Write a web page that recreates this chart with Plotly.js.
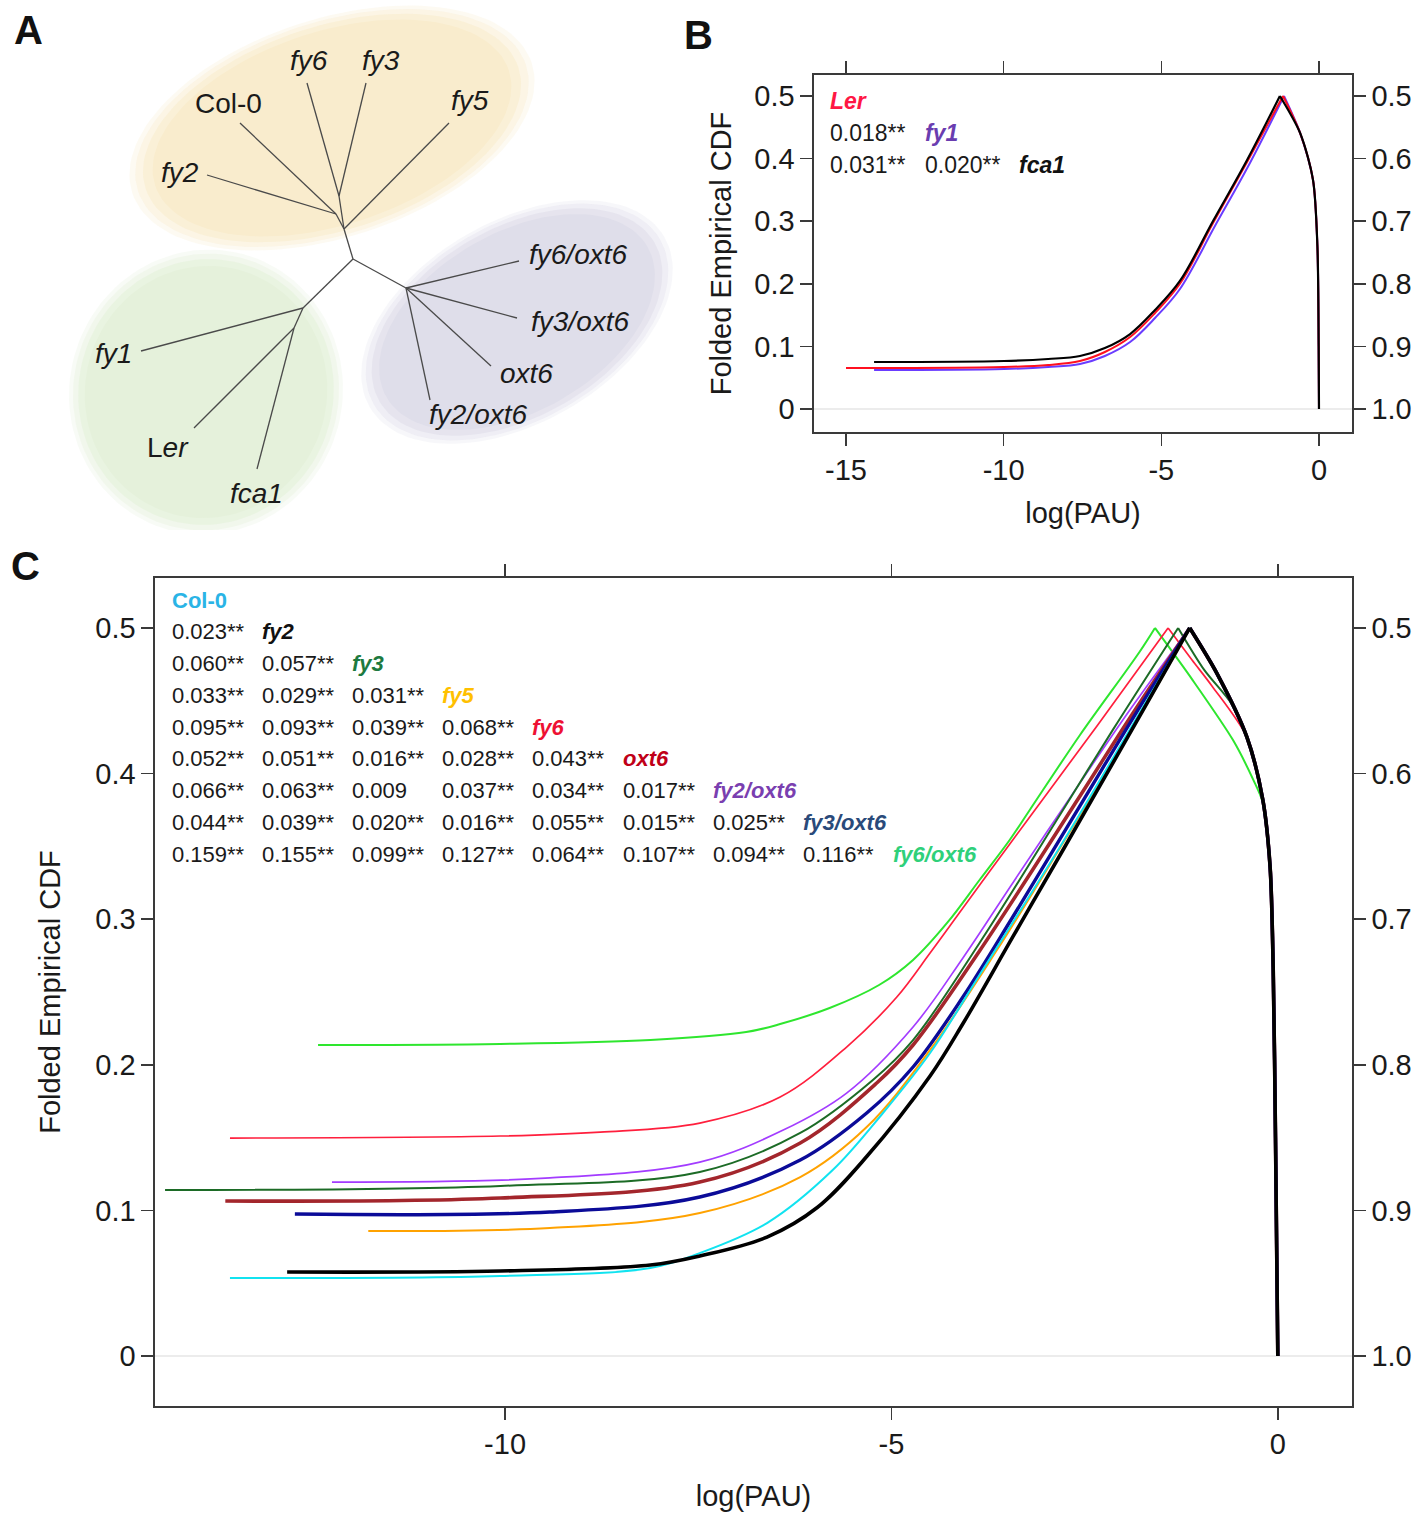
<!DOCTYPE html>
<html><head><meta charset="utf-8">
<script src="https://cdn.plot.ly/plotly-3.0.1.min.js"></script>
<style>html,body{margin:0;padding:0;background:#fff}#chart{width:1421px;height:1514px}</style>
</head><body><div id="chart"></div>
<script>
// ---------------- Panel C data (log(PAU) vs folded empirical CDF) ----------------
const col0X = [-13.56,-10.06,-8.12,-7.48,-6.61,-5.76,-5.11,-4.50,-3.86,-2.82,-1.69,-1.14,-0.79,-0.40,-0.194,-0.10,-0.06,-0.03,0];
const col0Y = [0.0536,0.055,0.0604,0.0707,0.0913,0.1277,0.1669,0.2081,0.2617,0.3496,0.4505,0.5,0.469,0.425,0.382,0.336,0.267,0.15,0];
const fy2X = [-12.82,-10.06,-8.12,-7.48,-6.61,-5.96,-5.32,-4.50,-4.07,-3.43,-2.78,-1.69,-1.14,-0.79,-0.40,-0.194,-0.10,-0.06,-0.03,0];
const fy2Y = [0.0577,0.0584,0.0625,0.0687,0.0817,0.102,0.137,0.1923,0.2287,0.2878,0.3475,0.4485,0.5,0.469,0.425,0.382,0.336,0.267,0.15,0];
const fy3X = [-14.40,-10.06,-7.48,-6.18,-5.24,-4.72,-3.86,-2.78,-2.135,-1.29,-0.95,-0.60,-0.40,-0.194,-0.10,-0.06,-0.03,0];
const fy3Y = [0.114,0.1168,0.1264,0.1532,0.1896,0.217,0.2837,0.375,0.43,0.5,0.471,0.448,0.425,0.382,0.336,0.267,0.15,0];
const fy5X = [-11.77,-9.42,-7.48,-6.18,-5.32,-4.50,-3.635,-2.78,-2.34,-1.695,-1.14,-0.79,-0.40,-0.194,-0.10,-0.06,-0.03,0];
const fy5Y = [0.0859,0.0879,0.0982,0.1229,0.1573,0.2102,0.2788,0.3523,0.3908,0.4478,0.5,0.469,0.425,0.382,0.336,0.267,0.15,0];
const fy6X = [-13.56,-10.06,-8.77,-7.48,-6.44,-5.58,-4.93,-4.50,-4.075,-3.43,-2.99,-2.34,-1.42,-1.11,-0.85,-0.40,-0.194,-0.10,-0.06,-0.03,0];
const fy6Y = [0.1497,0.1511,0.1538,0.160,0.1779,0.2122,0.2466,0.2768,0.3077,0.3544,0.386,0.4327,0.5,0.478,0.46,0.425,0.382,0.336,0.267,0.15,0];
const oxt6X = [-13.62,-10.06,-7.48,-6.18,-5.19,-4.72,-3.86,-2.56,-1.915,-1.14,-0.79,-0.40,-0.194,-0.10,-0.06,-0.03,0];
const oxt6Y = [0.1065,0.1085,0.1195,0.1463,0.1875,0.2136,0.2782,0.3846,0.4382,0.5,0.469,0.425,0.382,0.336,0.267,0.15,0];
const fy2oxt6X = [-12.24,-9.42,-7.48,-6.40,-5.58,-4.72,-4.075,-3.43,-2.56,-1.915,-1.14,-0.79,-0.40,-0.194,-0.10,-0.06,-0.03,0];
const fy2oxt6Y = [0.1195,0.1223,0.1332,0.1552,0.1806,0.226,0.2734,0.3249,0.3936,0.4437,0.5,0.469,0.425,0.382,0.336,0.267,0.15,0];
const fy3oxt6X = [-12.72,-9.42,-7.48,-6.18,-5.32,-4.72,-4.075,-3.43,-2.50,-1.85,-1.14,-0.79,-0.40,-0.194,-0.10,-0.06,-0.03,0];
const fy3oxt6Y = [0.0975,0.0989,0.1092,0.1346,0.1669,0.1985,0.2466,0.3015,0.3832,0.4402,0.5,0.469,0.425,0.382,0.336,0.267,0.15,0];
const fy6oxt6X = [-12.42,-10.06,-8.12,-6.88,-6.44,-5.80,-5.16,-4.72,-4.28,-3.86,-3.47,-3.21,-2.56,-1.79,-1.59,-1.1,-0.58,-0.32,-0.194,-0.10,-0.06,-0.03,0];
const fy6oxt6Y = [0.2136,0.2143,0.217,0.2225,0.228,0.239,0.2548,0.272,0.2974,0.3269,0.3544,0.375,0.4265,0.4835,0.5,0.464,0.423,0.396,0.38,0.336,0.267,0.15,0];

// Panel C pairwise distance table (lower triangle)
const cNames = ['Col-0','fy2','fy3','fy5','fy6','oxt6','fy2/oxt6','fy3/oxt6','fy6/oxt6'];
const cDist = [
  [],
  ['0.023**'],
  ['0.060**','0.057**'],
  ['0.033**','0.029**','0.031**'],
  ['0.095**','0.093**','0.039**','0.068**'],
  ['0.052**','0.051**','0.016**','0.028**','0.043**'],
  ['0.066**','0.063**','0.009','0.037**','0.034**','0.017**'],
  ['0.044**','0.039**','0.020**','0.016**','0.055**','0.015**','0.025**'],
  ['0.159**','0.155**','0.099**','0.127**','0.064**','0.107**','0.094**','0.116**']
];

// ---------------- Panel B data ----------------
const lerX = [-15.0,-9.99,-8.59,-7.58,-6.79,-5.99,-5.20,-4.41,-3.36,-2.28,-1.14,-0.6,-0.19,-0.05,-0.01,0];
const lerY = [0.0655,0.0671,0.0703,0.0767,0.0911,0.115,0.1534,0.200,0.2971,0.3946,0.5,0.441,0.366,0.26,0.1,0];
const fy1X = [-14.11,-9.99,-8.59,-7.58,-6.79,-5.99,-5.20,-4.41,-3.30,-2.19,-1.11,-0.6,-0.19,-0.05,-0.01,0];
const fy1Y = [0.0623,0.0639,0.0671,0.0719,0.0847,0.107,0.1454,0.1917,0.2923,0.393,0.5,0.441,0.366,0.26,0.1,0];
const fca1X = [-14.11,-9.99,-8.59,-7.58,-6.79,-5.99,-5.20,-4.41,-3.36,-2.28,-1.24,-0.6,-0.19,-0.05,-0.01,0];
const fca1Y = [0.0751,0.0767,0.0799,0.0847,0.0974,0.1198,0.1581,0.2045,0.3003,0.3978,0.5,0.441,0.366,0.26,0.1,0];
const bNames = ['Ler','fy1','fca1'];
const bDist = [[], ['0.018**'], ['0.031**','0.020**']];

// ---------------- Panel A data (unrooted tree, drawing units) ----------------
const treeNodeNames = ['R','Y','Ya','Yb','P','G','Ga','fy5','fy2','Col-0','fy6','fy3','fy6/oxt6','fy3/oxt6','oxt6','fy2/oxt6','fy1','Ler','fca1'];
const treeNodeX = [353,344,336,339,406,303,294,449,207,240,307,366,519,517,491,430,141,194,257];
const treeNodeY = [259,229,214,196,288,308,328,123,175,123,83,83,261,318,366,400,351,428,469];
const treeEdgeFrom = ['R','Y','Y','Ya','Ya','Y','Yb','Yb','R','P','P','P','P','R','G','G','Ga','Ga'];
const treeEdgeTo   = ['Y','fy5','Ya','fy2','Col-0','Yb','fy6','fy3','P','fy6/oxt6','fy3/oxt6','oxt6','fy2/oxt6','G','fy1','Ga','Ler','fca1'];
const treeLabels = ['Col-0','fy6','fy3','fy5','fy2','fy6/oxt6','fy3/oxt6','oxt6','fy2/oxt6','fy1','Ler','fca1'];
const treeLabelX = [228,309,381,470,180,578,580,526,478,113,168,256];
const treeLabelY = [103,60,60,100,172,254,321,373,414,353,447,493];

// ---------------- Styles ----------------
const FONT = '"Liberation Sans", Arial, Helvetica, sans-serif';
const W = 1421, H = 1514;
const pxX = v => v / W, pxY = v => 1 - v / H;

const cSeries = [
  {x: fy6oxt6X, y: fy6oxt6Y, color: '#2ee62e', width: 2},
  {x: fy6X, y: fy6Y, color: '#ff1f3d', width: 1.7},
  {x: fy2oxt6X, y: fy2oxt6Y, color: '#a33cff', width: 1.7},
  {x: fy3X, y: fy3Y, color: '#1c6b26', width: 2},
  {x: oxt6X, y: oxt6Y, color: '#a3262c', width: 3.6},
  {x: fy3oxt6X, y: fy3oxt6Y, color: '#0b0b98', width: 3.4},
  {x: fy5X, y: fy5Y, color: '#ffa200', width: 2},
  {x: col0X, y: col0Y, color: '#11e3f0', width: 2},
  {x: fy2X, y: fy2Y, color: '#000000', width: 3.6}
];
const cNameColors = ['#2ab4e6','#111111','#1d7a40','#ffc000','#ee1133','#c00018','#7a3fb0','#2a4a7a','#2fd07a'];
const bSeries = [
  {x: fy1X, y: fy1Y, color: '#6a3cff', width: 2},
  {x: lerX, y: lerY, color: '#ff1020', width: 2},
  {x: fca1X, y: fca1Y, color: '#000000', width: 2.2}
];
const bNameColors = ['#ff1744','#6a3db0','#111111'];

const traces = [];

// background blobs for panel A (decorative soft ellipses: cx, cy, rx, ry, angle, color)
const blobs = [
  [332, 128, 200, 104, -18, '#f9eccd'],
  [206, 392, 130, 136, 15, '#e5f1db'],
  [517, 322, 162, 96, -30, '#dfdeea']
];
blobs.forEach(b => {
  [[1.05, 0.25], [1.02, 0.35], [0.98, 0.6], [0.93, 1]].forEach(([s, op]) => {
    const xs = [], ys = [];
    const a = b[4] * Math.PI / 180;
    for (let i = 0; i <= 120; i++) {
      const t = i / 120 * 2 * Math.PI;
      const ex = b[2] * s * Math.cos(t), ey = b[3] * s * Math.sin(t);
      xs.push(b[0] + ex * Math.cos(a) - ey * Math.sin(a));
      ys.push(b[1] + ex * Math.sin(a) + ey * Math.cos(a));
    }
    traces.push({x: xs, y: ys, xaxis: 'x3', yaxis: 'y3', mode: 'lines', fill: 'toself',
      fillcolor: b[5], opacity: op, line: {width: 0}, hoverinfo: 'skip', showlegend: false});
  });
});

// tree edges
const tx = [], ty = [];
treeEdgeFrom.forEach((f, i) => {
  const a = treeNodeNames.indexOf(f), b = treeNodeNames.indexOf(treeEdgeTo[i]);
  tx.push(treeNodeX[a], treeNodeX[b], null);
  ty.push(treeNodeY[a], treeNodeY[b], null);
});
traces.push({x: tx, y: ty, xaxis: 'x3', yaxis: 'y3', mode: 'lines',
  line: {color: '#4a4a4a', width: 1.3}, hoverinfo: 'skip', showlegend: false});

function addCurve(s, xa, ya) {
  const pk = s.y.indexOf(Math.max(...s.y));
  const rise = {x: s.x.slice(0, pk + 1), y: s.y.slice(0, pk + 1)};
  const fall = {x: s.x.slice(pk), y: s.y.slice(pk)};
  [rise, fall].forEach((p, k) => {
    traces.push({x: p.x, y: p.y, xaxis: xa, yaxis: ya, mode: 'lines',
      line: {color: s.color, width: s.width, shape: 'spline', smoothing: k === 0 ? 1.0 : 0.8},
      hoverinfo: 'skip', showlegend: false});
  });
}
cSeries.forEach(s => addCurve(s, 'x', 'y'));
bSeries.forEach(s => addCurve(s, 'x2', 'y2'));
// anchors for the right-hand (1 - CDF) axes
traces.push({x: [], y: [], xaxis: 'x', yaxis: 'y4', mode: 'lines', showlegend: false, hoverinfo: 'skip'});
traces.push({x: [], y: [], xaxis: 'x2', yaxis: 'y5', mode: 'lines', showlegend: false, hoverinfo: 'skip'});

const ann = [];
// panel letters
[['A', 28, 30], ['B', 698, 35], ['C', 25, 566]].forEach(([t, x, y]) => ann.push({
  text: '<b>' + t + '</b>', xref: 'paper', yref: 'paper', x: pxX(x), y: pxY(y),
  xanchor: 'center', yanchor: 'middle', showarrow: false, font: {family: FONT, size: 40, color: '#111'}}));

// tree labels
treeLabels.forEach((t, i) => {
  let txt;
  if (t === 'Col-0') txt = 'Col-0';
  else if (t === 'Ler') txt = 'L<i>er</i>';
  else txt = '<i>' + t + '</i>';
  ann.push({text: txt, xref: 'x3', yref: 'y3', x: treeLabelX[i], y: treeLabelY[i], xanchor: 'center',
    yanchor: 'middle', showarrow: false, font: {family: FONT, size: 28, color: '#1a1a1a'}});
});

// panel C table
cNames.forEach((n, r) => {
  const yy = 600 + 31.75 * r;
  cDist[r].forEach((v, c) => ann.push({text: v, xref: 'paper', yref: 'paper', x: pxX(170 + 90.1 * c), y: pxY(yy),
    xanchor: 'left', yanchor: 'middle', showarrow: false, font: {family: FONT, size: 22, color: '#1a1a1a'}}));
  const label = n === 'Col-0' ? '<b>Col-0</b>' : '<b><i>' + n + '</i></b>';
  ann.push({text: label, xref: 'paper', yref: 'paper', x: pxX(170 + 90.1 * r), y: pxY(yy),
    xanchor: 'left', yanchor: 'middle', showarrow: false, font: {family: FONT, size: 22, color: cNameColors[r]}});
});
// panel B table
bNames.forEach((n, r) => {
  const yy = 101 + 32 * r;
  bDist[r].forEach((v, c) => ann.push({text: v, xref: 'paper', yref: 'paper', x: pxX(828 + 94.5 * c), y: pxY(yy),
    xanchor: 'left', yanchor: 'middle', showarrow: false, font: {family: FONT, size: 23, color: '#1a1a1a'}}));
  ann.push({text: '<b><i>' + n + '</i></b>', xref: 'paper', yref: 'paper', x: pxX(828 + 94.5 * r), y: pxY(yy),
    xanchor: 'left', yanchor: 'middle', showarrow: false, font: {family: FONT, size: 23, color: bNameColors[r]}});
});

const tickFont = {family: FONT, size: 29, color: '#1a1a1a'};
const titleFont = {family: FONT, size: 29, color: '#1a1a1a'};
const lineStyle = {showline: true, linecolor: '#3a3a3a', linewidth: 1.6, ticks: 'outside', ticklen: 12,
  tickwidth: 1.5, tickcolor: '#3a3a3a', showgrid: false, tickfont: tickFont, automargin: false, fixedrange: true};

const layout = {
  width: W, height: H, margin: {l: 0, r: 0, t: 0, b: 0},
  paper_bgcolor: '#fff', plot_bgcolor: '#fff', showlegend: false,
  // Panel C
  xaxis: Object.assign({}, lineStyle, {domain: [pxX(155), pxX(1352)], range: [-14.53, 0.96], anchor: 'y',
    tickvals: [-10, -5, 0], ticktext: ['-10', '-5', '0'], mirror: 'ticks', zeroline: false,
    title: {text: 'log(PAU)', font: titleFont, standoff: 26}}),
  yaxis: Object.assign({}, lineStyle, {domain: [pxY(1406), pxY(578)], range: [-0.0343, 0.5343], anchor: 'x',
    tickvals: [0, 0.1, 0.2, 0.3, 0.4, 0.5], ticktext: ['0', '0.1', '0.2', '0.3', '0.4', '0.5'],
    zeroline: true, zerolinecolor: '#ececec', zerolinewidth: 2,
    title: {text: 'Folded Empirical CDF', font: titleFont, standoff: 26}}),
  yaxis4: Object.assign({}, lineStyle, {overlaying: 'y', side: 'right', anchor: 'x', range: [1.0343, 0.4657],
    tickvals: [0.5, 0.6, 0.7, 0.8, 0.9, 1.0], ticktext: ['0.5', '0.6', '0.7', '0.8', '0.9', '1.0'], zeroline: false}),
  // Panel B
  xaxis2: Object.assign({}, lineStyle, {domain: [pxX(814), pxX(1352)], range: [-16.015, 1.047], anchor: 'y2',
    tickvals: [-15, -10, -5, 0], ticktext: ['-15', '-10', '-5', '0'], mirror: 'ticks', zeroline: false,
    title: {text: 'log(PAU)', font: titleFont, standoff: 17}}),
  yaxis2: Object.assign({}, lineStyle, {domain: [pxY(432), pxY(75)], range: [-0.0367, 0.5335], anchor: 'x2',
    tickvals: [0, 0.1, 0.2, 0.3, 0.4, 0.5], ticktext: ['0', '0.1', '0.2', '0.3', '0.4', '0.5'],
    zeroline: true, zerolinecolor: '#ececec', zerolinewidth: 2,
    title: {text: 'Folded Empirical CDF', font: titleFont, standoff: 14}}),
  yaxis5: Object.assign({}, lineStyle, {overlaying: 'y2', side: 'right', anchor: 'x2', range: [1.0367, 0.4665],
    tickvals: [0.5, 0.6, 0.7, 0.8, 0.9, 1.0], ticktext: ['0.5', '0.6', '0.7', '0.8', '0.9', '1.0'], zeroline: false}),
  // Panel A
  xaxis3: {domain: [0, pxX(680)], range: [0, 680], anchor: 'y3', visible: false, fixedrange: true},
  yaxis3: {domain: [pxY(530), 1], range: [530, 0], anchor: 'x3', visible: false, fixedrange: true},
  annotations: ann
};

Plotly.newPlot('chart', traces, layout, {displayModeBar: false, staticPlot: true});
</script></body></html>
